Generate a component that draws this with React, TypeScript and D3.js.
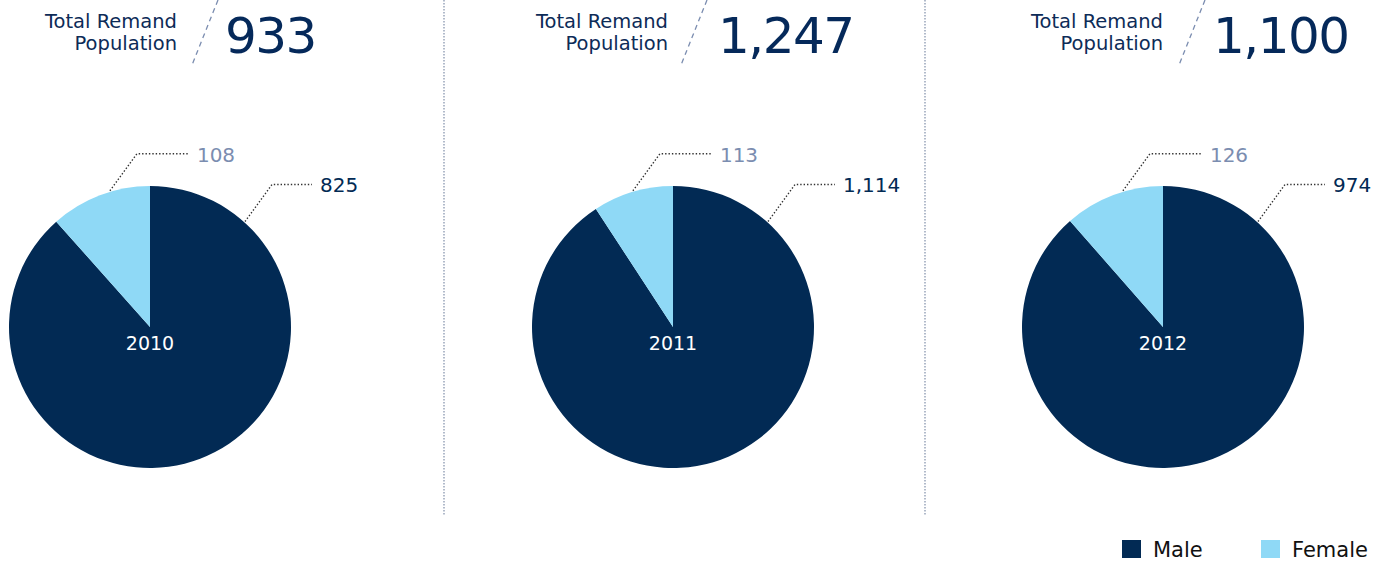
import { useEffect, useRef } from "react"
import * as d3 from "d3"

// data
const years = ["2010", "2011", "2012"]
const totals = [933, 1247, 1100]
const maleCounts = [825, 1114, 974]
const femaleCounts = [108, 113, 126]
const categories = ["Male", "Female"]

const W = 1391
const H = 562
const NAVY = "#022a54"
const LIGHT = "#8fd9f6"
const GREYBLUE = "#7b8db0"
const FONT = "'DejaVu Sans', sans-serif"

// panel layout
const pieX = [150, 673, 1163]
const pieY = 327
const R = 141
const headLabelX = [177, 668, 1163]
const slashTopX = [218, 707, 1205]
const numberX = [225, 718, 1213]
const separators = [444, 925]

export default function App() {
  const ref = useRef<SVGSVGElement>(null)

  useEffect(() => {
    const svg = d3.select(ref.current)
    svg.selectAll("*").remove()

    const color = d3.scaleOrdinal<string, string>().domain(categories).range([NAVY, LIGHT])
    const pie = d3.pie<{ key: string; value: number }>().sort(null).value((d) => d.value)
    const arc = d3.arc<d3.PieArcDatum<{ key: string; value: number }>>().innerRadius(0).outerRadius(R)
    const fmt = d3.format(",")

    // separators
    svg.selectAll(".sep")
      .data(separators)
      .enter()
      .append("line")
      .attr("x1", (d) => d)
      .attr("x2", (d) => d)
      .attr("y1", 0)
      .attr("y2", 516)
      .attr("stroke", "#7f8ea8")
      .attr("stroke-width", 1.2)
      .attr("stroke-dasharray", "1.5,1.5")

    years.forEach((yr, i) => {
      const g = svg.append("g")

      // header
      const head = g.append("text")
        .attr("text-anchor", "end")
        .attr("fill", "#0d2b57")
        .attr("font-family", FONT)
        .attr("font-size", 19.5)
      head.append("tspan").attr("x", headLabelX[i]).attr("y", 28).text("Total Remand")
      head.append("tspan").attr("x", headLabelX[i]).attr("y", 50).text("Population")

      g.append("line")
        .attr("x1", slashTopX[i])
        .attr("y1", 0)
        .attr("x2", slashTopX[i] - 26)
        .attr("y2", 65)
        .attr("stroke", GREYBLUE)
        .attr("stroke-width", 1.3)
        .attr("stroke-dasharray", "5,4")

      g.append("text")
        .attr("x", numberX[i])
        .attr("y", 53)
        .attr("fill", "#05295a")
        .attr("font-family", FONT)
        .attr("font-size", 50)
        .attr("letter-spacing", -1.5)
        .text(fmt(totals[i]))

      // pie
      const data = [
        { key: "Male", value: maleCounts[i] },
        { key: "Female", value: femaleCounts[i] },
      ]
      const pg = g.append("g").attr("transform", `translate(${pieX[i]},${pieY})`)
      pg.selectAll("path")
        .data(pie(data))
        .enter()
        .append("path")
        .attr("d", arc)
        .attr("fill", (d) => color(d.data.key))

      pg.append("text")
        .attr("text-anchor", "middle")
        .attr("y", 23)
        .attr("fill", "#fff")
        .attr("font-family", FONT)
        .attr("font-size", 19)
        .text(yr)

      // leader lines
      const leaders = [
        { angle: (42 * Math.PI) / 180, len: 40, value: maleCounts[i], fill: NAVY },
        { angle: (-16.4 * Math.PI) / 180, len: 52, value: femaleCounts[i], fill: GREYBLUE },
      ]
      leaders.forEach((l) => {
        const [sx, sy] = d3.pointRadial(l.angle, R + 1)
        const ex = sx + 27
        const ey = sy - 37
        pg.append("path")
          .attr("d", d3.line()([[sx, sy], [ex, ey], [ex + l.len, ey]]))
          .attr("fill", "none")
          .attr("stroke", "#333")
          .attr("stroke-width", 1.4)
          .attr("stroke-dasharray", "1.4,2")
        pg.append("text")
          .attr("x", ex + l.len + 8)
          .attr("y", ey + 8)
          .attr("fill", l.fill)
          .attr("font-family", FONT)
          .attr("font-size", 20)
          .text(fmt(l.value))
      })
    })

    // legend
    const legX = [1122, 1261]
    const lg = svg.selectAll(".leg")
      .data(categories)
      .enter()
      .append("g")
      .attr("transform", (_, i) => `translate(${legX[i]},540)`)
    lg.append("rect")
      .attr("width", 19)
      .attr("height", 18)
      .attr("fill", (d) => color(d))
    lg.append("text")
      .attr("x", 31)
      .attr("y", 17)
      .attr("fill", "#111")
      .attr("font-family", FONT)
      .attr("font-size", 21)
      .text((d) => d)
  }, [])

  return (
    <svg
      ref={ref}
      width={W}
      height={H}
      style={{ position: "absolute", left: 0, top: 0, background: "#fff" }}
    />
  )
}
